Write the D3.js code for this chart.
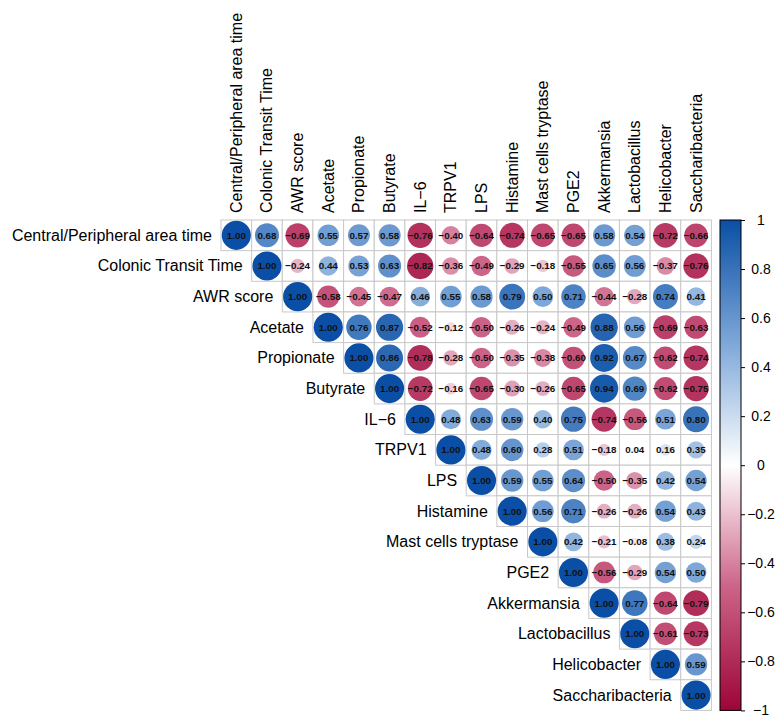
<!DOCTYPE html>
<html><head><meta charset="utf-8">
<script src="https://cdn.jsdelivr.net/npm/d3@7"></script>
<style>
body{margin:0;background:#fff;}
svg{display:block;font-family:"Liberation Sans",Arial,Helvetica,sans-serif;}
</style></head>
<body>
<svg id="chart" width="783" height="728"></svg>
<script>
const variables = ["Central/Peripheral area time","Colonic Transit Time","AWR score","Acetate","Propionate","Butyrate","IL\u22126","TRPV1","LPS","Histamine","Mast cells tryptase","PGE2","Akkermansia","Lactobacillus","Helicobacter","Saccharibacteria"];

// upper-triangle correlations, row i starts at column i (diagonal)
const rowCentral   = [1.00, 0.68,-0.69, 0.55, 0.57, 0.58,-0.76,-0.40,-0.64,-0.74,-0.65,-0.65, 0.58, 0.54,-0.72,-0.66];
const rowColonic   = [1.00,-0.24, 0.44, 0.53, 0.63,-0.82,-0.36,-0.49,-0.29,-0.18,-0.55, 0.65, 0.56,-0.37,-0.76];
const rowAWR       = [1.00,-0.58,-0.45,-0.47, 0.46, 0.55, 0.58, 0.79, 0.50, 0.71,-0.44,-0.28, 0.74, 0.41];
const rowAcetate   = [1.00, 0.76, 0.87,-0.52,-0.12,-0.50,-0.26,-0.24,-0.49, 0.88, 0.56,-0.69,-0.63];
const rowPropion   = [1.00, 0.86,-0.78,-0.28,-0.50,-0.35,-0.38,-0.60, 0.92, 0.67,-0.62,-0.74];
const rowButyrate  = [1.00,-0.72,-0.16,-0.65,-0.30,-0.26,-0.65, 0.94, 0.69,-0.62,-0.75];
const rowIL6       = [1.00, 0.48, 0.63, 0.59, 0.40, 0.75,-0.74,-0.56, 0.51, 0.80];
const rowTRPV1     = [1.00, 0.48, 0.60, 0.28, 0.51,-0.18, 0.04, 0.16, 0.35];
const rowLPS       = [1.00, 0.59, 0.55, 0.64,-0.50,-0.35, 0.42, 0.54];
const rowHistamine = [1.00, 0.56, 0.71,-0.26,-0.26, 0.54, 0.43];
const rowMast      = [1.00, 0.42,-0.21,-0.08, 0.38, 0.24];
const rowPGE2      = [1.00,-0.56,-0.29, 0.54, 0.50];
const rowAkk       = [1.00, 0.77,-0.64,-0.79];
const rowLacto     = [1.00,-0.61,-0.73];
const rowHelico    = [1.00, 0.59];
const rowSacch     = [1.00];
const corrRows = [rowCentral,rowColonic,rowAWR,rowAcetate,rowPropion,rowButyrate,rowIL6,rowTRPV1,rowLPS,rowHistamine,rowMast,rowPGE2,rowAkk,rowLacto,rowHelico,rowSacch];

const legendTicks = [1,0.8,0.6,0.4,0.2,0,-0.2,-0.4,-0.6,-0.8,-1];
const paletteStops = [-1,-0.5,0,0.5,1];
const paletteColors = ["#9c0637","#cc6287","#ffffff","#7da7d8","#0a4fa5"];

const cells = [];
corrRows.forEach((row,i)=>row.forEach((v,k)=>cells.push({i, j:i+k, v})));

const svg = d3.select("#chart");
const x0 = 221, y0 = 220, size = 490.4;
const x = d3.scaleBand().domain(d3.range(variables.length)).range([x0, x0+size]);
const y = d3.scaleBand().domain(d3.range(variables.length)).range([y0, y0+size]);
const cw = x.bandwidth();
const color = d3.scaleLinear().domain(paletteStops).range(paletteColors).interpolate(d3.interpolateRgb);
const rScale = d3.scaleSqrt().domain([0,1]).range([0, cw*0.475]);
const fmt = v => d3.format(".2f")(v).replace("-", "\u2212");

// grid
svg.append("g").selectAll("rect").data(cells).join("rect")
  .attr("x", d=>x(d.j)).attr("y", d=>y(d.i)).attr("width", cw).attr("height", cw)
  .attr("fill","#fff").attr("stroke","#c8c8c8").attr("stroke-width",1);

// circles
svg.append("g").selectAll("circle").data(cells).join("circle")
  .attr("cx", d=>x(d.j)+cw/2).attr("cy", d=>y(d.i)+cw/2)
  .attr("r", d=>rScale(Math.abs(d.v)))
  .attr("fill", d=>color(d.v));

// numbers
svg.append("g").selectAll("text").data(cells).join("text")
  .attr("x", d=>x(d.j)+cw/2).attr("y", d=>y(d.i)+cw/2)
  .attr("text-anchor","middle").attr("dominant-baseline","central")
  .attr("font-size","9.8px").attr("font-weight","bold").attr("fill","#111")
  .text(d=>fmt(d.v));

// row labels
svg.append("g").selectAll("text").data(variables).join("text")
  .attr("x", (d,i)=>x(i)-9).attr("y", (d,i)=>y(i)+cw/2)
  .attr("text-anchor","end").attr("dominant-baseline","central")
  .attr("font-size","16px").attr("fill","#000").text(d=>d);

// column labels
svg.append("g").selectAll("text").data(variables).join("text")
  .attr("transform", (d,i)=>`translate(${x(i)+cw/2},${y0-7}) rotate(-90)`)
  .attr("text-anchor","start").attr("dominant-baseline","central")
  .attr("font-size","16px").attr("fill","#000").text(d=>d);

// color legend
const lx = 720, lw = 21;
const ly = d3.scaleLinear().domain([1,-1]).range([y0, y0+size]);
const defs = svg.append("defs");
const grad = defs.append("linearGradient").attr("id","cbar").attr("x1",0).attr("y1",1).attr("x2",0).attr("y2",0);
d3.range(0,1.0001,0.05).forEach(t=>{
  const v = -1 + 2*t;
  grad.append("stop").attr("offset", t).attr("stop-color", color(v));
});
svg.append("rect").attr("x",lx).attr("y",y0).attr("width",lw).attr("height",size)
  .attr("fill","url(#cbar)").attr("stroke","#000").attr("stroke-width",1);
const axis = d3.axisRight(ly).tickValues(legendTicks).tickSize(4).tickPadding(0)
  .tickFormat(v=>String(v).replace("-", "\u2212"));
const ag = svg.append("g").attr("transform",`translate(${lx+lw},0)`).call(axis);
ag.select(".domain").remove();
ag.selectAll("text").attr("x", 20).attr("text-anchor","middle").attr("font-size","14px")
  .attr("font-family","Liberation Sans, Arial, sans-serif").attr("fill","#000");
ag.selectAll("line").attr("stroke","#000");
</script>
</body></html>
